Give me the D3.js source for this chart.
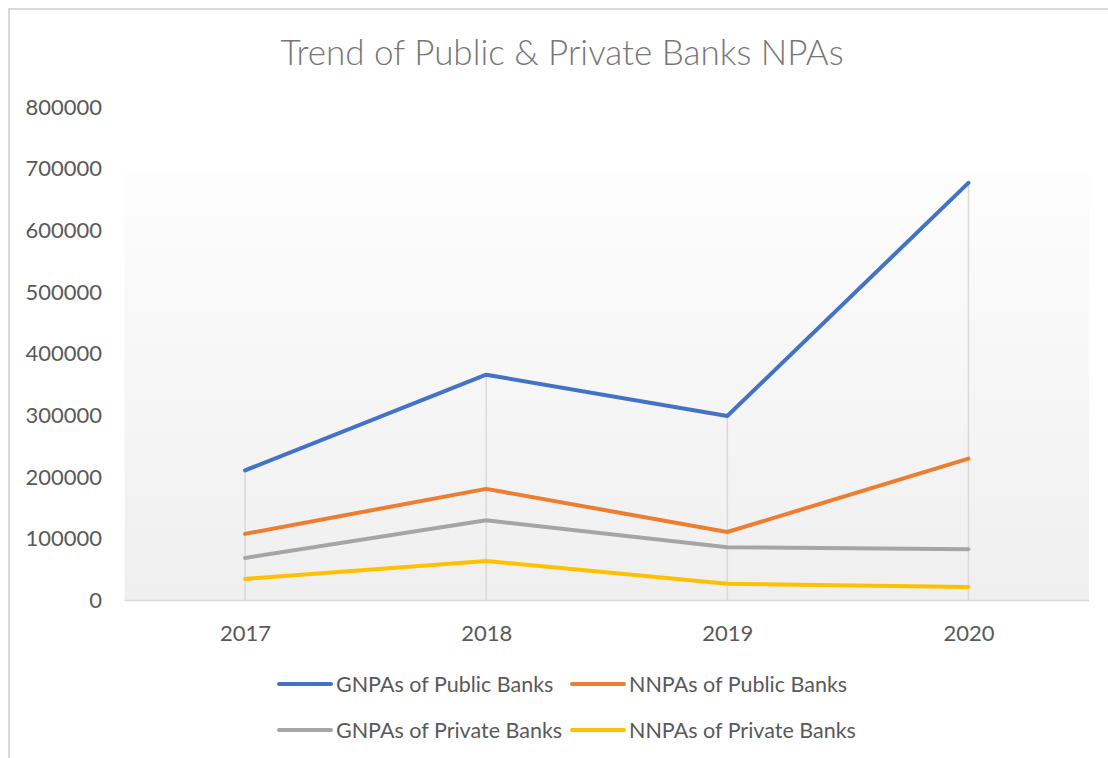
<!DOCTYPE html>
<html>
<head>
<meta charset="utf-8">
<script src="https://cdn.jsdelivr.net/npm/d3@7/dist/d3.min.js"></script>
<style>
  html, body { margin: 0; padding: 0; background: #ffffff; }
  svg { display: block; }
  text { font-family: Lato, "Open Sans", sans-serif; }
</style>
</head>
<body>
<svg id="chart" width="1108" height="758"></svg>
<script>
// Yearly non-performing assets (in crore) for public and private banks
const years = ["2017", "2018", "2019", "2020"];
const gnpaPublic  = [211000, 366000, 299000, 677000];
const nnpaPublic  = [108000, 181000, 111000, 230000];
const gnpaPrivate = [69000, 130000, 86500, 83000];
const nnpaPrivate = [35000, 64000, 27000, 22000];
const seriesNames = ["GNPAs of Public Banks", "NNPAs of Public Banks", "GNPAs of Private Banks", "NNPAs of Private Banks"];
const seriesColors = ["#4472C4", "#ED7D31", "#A5A5A5", "#FFC000"];
const yTicks = [0, 100000, 200000, 300000, 400000, 500000, 600000, 700000, 800000];

const series = [gnpaPublic, nnpaPublic, gnpaPrivate, nnpaPrivate].map((vals, i) => ({
  name: seriesNames[i],
  color: seriesColors[i],
  values: vals.map((v, j) => ({ year: years[j], value: v }))
}));

const svg = d3.select("#chart");
const W = 1108, H = 758;
const plot = { left: 124.5, right: 1089, top: 107, bottom: 600.5, fillTop: 172 };

// chart area outline (extends past the right and bottom edges)
svg.append("path")
  .attr("d", `M9,${H + 5} L9,9 L${W + 5},9`)
  .attr("fill", "none")
  .attr("stroke", "#d9d9d9")
  .attr("stroke-width", 2);

// title
svg.append("text")
  .attr("x", 562)
  .attr("y", 65)
  .attr("text-anchor", "middle")
  .attr("font-size", 35)
  .attr("font-weight", 300)
  .attr("fill", "#767676")
  .text("Trend of Public & Private Banks NPAs");

const x = d3.scalePoint().domain(years).range([plot.left, plot.right]).padding(0.5);
const y = d3.scaleLinear().domain([0, 800000]).range([plot.bottom, plot.top]);

// plot area fill: soft vertical gradient
const defs = svg.append("defs");
const grad = defs.append("linearGradient")
  .attr("id", "plotFill").attr("x1", 0).attr("y1", 0).attr("x2", 0).attr("y2", 1);
grad.append("stop").attr("offset", "0%").attr("stop-color", "#fdfdfd");
grad.append("stop").attr("offset", "100%").attr("stop-color", "#efefef");

svg.append("rect")
  .attr("x", plot.left)
  .attr("y", plot.fillTop)
  .attr("width", plot.right - plot.left)
  .attr("height", plot.bottom - plot.fillTop)
  .attr("fill", "url(#plotFill)");

// y axis labels
const yAxis = d3.axisLeft(y).tickValues(yTicks).tickSize(0).tickPadding(0).tickFormat(d3.format("d"));
const yG = svg.append("g").attr("transform", "translate(102,0)").call(yAxis);
yG.select(".domain").remove();
yG.selectAll("text")
  .attr("font-size", 22)
  .attr("fill", "#595959")
  .attr("font-family", "Lato, 'Open Sans', sans-serif");

// x axis
const xAxis = d3.axisBottom(x).tickSize(0).tickPadding(0);
const xG = svg.append("g").attr("transform", `translate(0,${plot.bottom})`).call(xAxis);
xG.select(".domain").remove();
xG.selectAll("text")
  .attr("dy", 0)
  .attr("y", 40)
  .attr("font-size", 22)
  .attr("fill", "#595959")
  .attr("font-family", "Lato, 'Open Sans', sans-serif");

// drop lines from the highest series value to the axis
svg.append("g").selectAll("line")
  .data(years)
  .join("line")
  .attr("x1", d => x(d)).attr("x2", d => x(d))
  .attr("y1", (d, j) => y(d3.max(series, s => s.values[j].value)))
  .attr("y2", plot.bottom)
  .attr("stroke", "#d9d9d9")
  .attr("stroke-width", 1.5);

// category axis line
svg.append("line")
  .attr("x1", plot.left).attr("x2", plot.right)
  .attr("y1", plot.bottom).attr("y2", plot.bottom)
  .attr("stroke", "#d9d9d9")
  .attr("stroke-width", 1.5);

// series lines
const line = d3.line().x(d => x(d.year)).y(d => y(d.value));
svg.append("g").selectAll("path")
  .data(series)
  .join("path")
  .attr("d", d => line(d.values))
  .attr("fill", "none")
  .attr("stroke", d => d.color)
  .attr("stroke-width", 4)
  .attr("stroke-linecap", "round")
  .attr("stroke-linejoin", "round");

// legend, two rows of two
const legendPos = [
  { lx: 279, ly: 684 }, { lx: 572, ly: 684 },
  { lx: 279, ly: 730 }, { lx: 572, ly: 730 }
];
const legend = svg.append("g").selectAll("g")
  .data(series)
  .join("g")
  .attr("transform", (d, i) => `translate(${legendPos[i].lx},${legendPos[i].ly})`);
legend.append("line")
  .attr("x1", 0).attr("x2", 52).attr("y1", 0).attr("y2", 0)
  .attr("stroke", d => d.color)
  .attr("stroke-width", 4)
  .attr("stroke-linecap", "round");
legend.append("text")
  .attr("x", 57)
  .attr("y", 0)
  .attr("dy", "0.36em")
  .attr("font-size", 21.5)
  .attr("fill", "#595959")
  .text(d => d.name);
</script>
</body>
</html>
